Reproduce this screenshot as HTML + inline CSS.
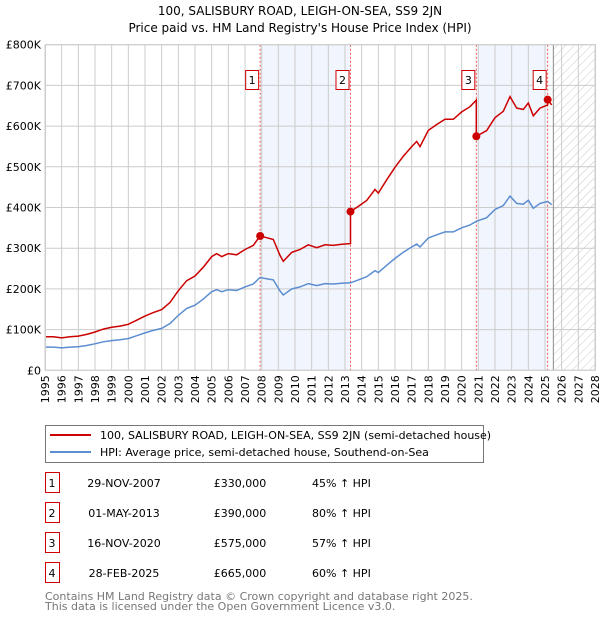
<!DOCTYPE html>
<html><head><meta charset="utf-8"><style>
html,body{margin:0;padding:0;background:#fff;}
svg{display:block;font-family:"DejaVu Sans","Liberation Sans",sans-serif;}
</style></head><body>
<svg id="chart" width="600" height="620" viewBox="0 0 600 620">
<defs>
<pattern id="hatch" width="6" height="6" patternUnits="userSpaceOnUse" patternTransform="rotate(45)">
<line x1="0" y1="0" x2="0" y2="6" stroke="#c8c8c8" stroke-width="1"/>
</pattern>
</defs>
<text x="300" y="15" text-anchor="middle" font-size="12">100, SALISBURY ROAD, LEIGH-ON-SEA, SS9 2JN</text>
<text x="300" y="32" text-anchor="middle" font-size="12">Price paid vs. HM Land Registry's House Price Index (HPI)</text>
<g id="plot"></g>
<g id="legend">
<rect x="45.5" y="425.5" width="438" height="37" fill="#fff" stroke="#777"/>
<line x1="50" y1="435" x2="91" y2="435" stroke="#cc0000" stroke-width="2"/>
<text x="100" y="439" font-size="11">100, SALISBURY ROAD, LEIGH-ON-SEA, SS9 2JN (semi-detached house)</text>
<line x1="50" y1="452" x2="91" y2="452" stroke="#5b8dd0" stroke-width="2"/>
<text x="100" y="456" font-size="11">HPI: Average price, semi-detached house, Southend-on-Sea</text>
</g>
<g id="table" font-size="11"></g>
<text x="45" y="600" font-size="11" fill="#777">Contains HM Land Registry data © Crown copyright and database right 2025.</text>
<text x="45" y="610" font-size="11" fill="#777">This data is licensed under the Open Government Licence v3.0.</text>
</svg>
<script>
const hpiYears=[1995.0,1995.5,1996.0,1996.5,1997.0,1997.5,1998.0,1998.5,1999.0,1999.5,2000.0,2000.5,2001.0,2001.5,2002.0,2002.5,2003.0,2003.5,2004.0,2004.5,2005.0,2005.3,2005.6,2006.0,2006.5,2007.0,2007.5,2007.9,2008.3,2008.7,2009.1,2009.3,2009.8,2010.3,2010.8,2011.3,2011.8,2012.3,2012.8,2013.33,2013.8,2014.3,2014.8,2015.0,2015.5,2016.0,2016.5,2017.0,2017.3,2017.5,2018.0,2018.5,2019.0,2019.5,2020.0,2020.5,2020.88,2021.5,2022.0,2022.5,2022.9,2023.3,2023.7,2024.0,2024.3,2024.7,2025.16,2025.4];
const hpiValues=[57,57,55,57,58,61,65,70,73,75,78,85,92,98,103,115,135,152,160,175,193,198,193,198,196,205,212,228,225,222,195,185,200,205,213,208,213,212,214,215,222,230,245,240,258,275,290,303,310,303,325,333,340,340,350,357,366,375,395,405,428,410,408,418,398,410,415,407];
const saleLabels=["1","2","3","4"];
const saleYears=[2007.91,2013.33,2020.88,2025.16];
const saleDates=["29-NOV-2007","01-MAY-2013","16-NOV-2020","28-FEB-2025"];
const salePrices=[330,390,575,665];
const salePriceText=["£330,000","£390,000","£575,000","£665,000"];
const salePctText=["45% ↑ HPI","80% ↑ HPI","57% ↑ HPI","60% ↑ HPI"];
const yTicks=[0,100,200,300,400,500,600,700,800];
const yTickLabels=["£0","£100K","£200K","£300K","£400K","£500K","£600K","£700K","£800K"];
const xTicks=[1995,1996,1997,1998,1999,2000,2001,2002,2003,2004,2005,2006,2007,2008,2009,2010,2011,2012,2013,2014,2015,2016,2017,2018,2019,2020,2021,2022,2023,2024,2025,2026,2027,2028];
const dataEnd=2025.5;

const NS="http://www.w3.org/2000/svg";
const X0=45,X1=595,Y0=370.3,Y1=44.7;
const xs=y=>X0+(y-1995)/(2028-1995)*(X1-X0);
const ys=v=>Y0-v/800*(Y0-Y1);
const plot=document.getElementById('plot');
function mk(tag,attrs,parent){const e=document.createElementNS(NS,tag);for(const k in attrs)e.setAttribute(k,attrs[k]);(parent||plot).appendChild(e);return e;}
function hpiAt(y){for(let i=1;i<hpiYears.length;i++){if(y<=hpiYears[i]){const t=(y-hpiYears[i-1])/(hpiYears[i]-hpiYears[i-1]);return hpiValues[i-1]+t*(hpiValues[i]-hpiValues[i-1]);}}return hpiValues[hpiValues.length-1];}

// shaded ownership periods
for(let i=0;i<saleYears.length;i+=2){
 const end=i+1<saleYears.length?saleYears[i+1]:dataEnd;
 const r=mk('rect',{x:xs(saleYears[i]),y:Y1,width:xs(end)-xs(saleYears[i]),height:Y0-Y1,fill:'#eef2fc',opacity:0.8});
 
 
}
const h=mk('rect',{x:xs(dataEnd),y:Y1,width:X1-xs(dataEnd),height:Y0-Y1,fill:'url(#hatch)'});


// grid
xTicks.forEach((t,i)=>{
 const l=mk('line',{x1:xs(t),x2:xs(t),y1:Y1,y2:Y0,stroke:'#cccccc','stroke-width':1});
 
 
 const tx=mk('text',{transform:`translate(${xs(t)+4},${Y0+5}) rotate(-90)`,'text-anchor':'end','font-size':11});
 tx.textContent=String(t);
 
 
});
yTicks.forEach((t,i)=>{
 const l=mk('line',{x1:X0,x2:X1,y1:ys(t),y2:ys(t),stroke:'#cccccc','stroke-width':1});
 
 
 const tx=mk('text',{x:X0-4,y:ys(t)+4,'text-anchor':'end','font-size':11});
 tx.textContent=yTickLabels[i];
 
 
});
const dl=mk('line',{x1:xs(dataEnd),x2:xs(dataEnd),y1:Y1,y2:Y0,stroke:'#888','stroke-width':1});


// sale vlines & labels
saleYears.forEach((sy,i)=>{
 const l=mk('line',{x1:xs(sy),x2:xs(sy),y1:Y1,y2:Y0,stroke:'#ee5555','stroke-width':1,'stroke-dasharray':'2,2'});
 
 
 const b=mk('rect',{x:xs(sy)-14.5,y:70.5,width:13,height:19,fill:'#fff',stroke:'#cc0000'});
 
 
 const t=mk('text',{x:xs(sy)-8,y:84,'text-anchor':'middle','font-size':11});
 t.textContent=saleLabels[i];
 
 
});
// HPI line
let d='';hpiYears.forEach((y,i)=>{d+=(i?'L':'M')+xs(y).toFixed(1)+','+ys(hpiValues[i]).toFixed(1);});
const hp=mk('path',{d:d,fill:'none',stroke:'#5b8dd0','stroke-width':1.5});


// property line: HPI scaled by ratio of latest sale
const ratios=saleYears.map((sy,i)=>salePrices[i]/hpiAt(sy));
let pts=[];
hpiYears.forEach((y,i)=>{
 let k=0;for(let j=0;j<saleYears.length;j++){if(y>=saleYears[j])k=j;}
 pts.push([y,hpiValues[i]*ratios[k]]);
});
saleYears.forEach((sy,j)=>{if(j>0)pts.push([sy+0.001,salePrices[j]],[sy-0.001,hpiAt(sy)*ratios[j-1]]);});
pts.sort((a,b)=>a[0]-b[0]);
d='';pts.forEach((p,i)=>{d+=(i?'L':'M')+xs(p[0]).toFixed(1)+','+ys(p[1]).toFixed(1);});
const pp=mk('path',{d:d,fill:'none',stroke:'#cc0000','stroke-width':1.5});


saleYears.forEach((sy,i)=>{
 const c=mk('circle',{cx:xs(sy),cy:ys(salePrices[i]),r:4,fill:'#cc0000'});
 
 
});
mk('rect',{x:X0+0.5,y:Y1,width:X1-X0,height:Y0-Y1,fill:'none',stroke:'#cccccc'});
// table
const tbl=document.getElementById('table');
saleYears.forEach((sy,i)=>{
 const yc=483+i*30;
 const b=mk('rect',{x:45.5,y:yc-10.5,width:14,height:20,fill:'#fff',stroke:'#cc0000'},tbl);
 
 
 const cols=[[52,saleLabels[i],'middle'],[124,saleDates[i],'middle'],[240,salePriceText[i],'middle'],[312,salePctText[i],'start']];
 cols.forEach(c=>{
  const t=mk('text',{x:c[0],y:yc+4,'text-anchor':c[2]},tbl);
  t.textContent=c[1];
  
  
 });
});
</script>
</body></html>
